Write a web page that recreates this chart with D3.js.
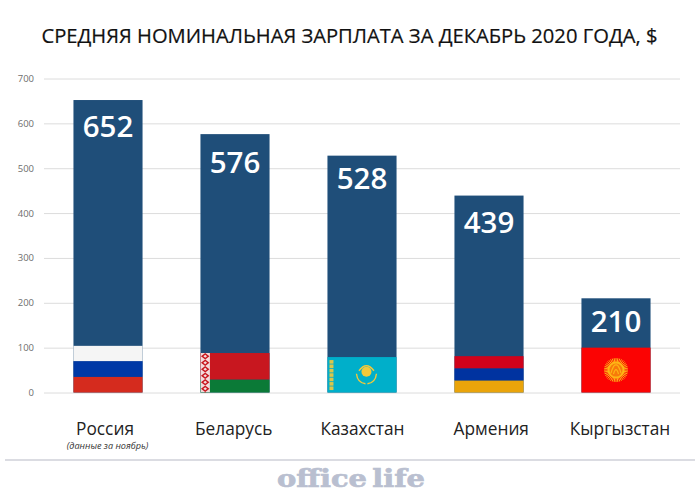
<!DOCTYPE html>
<html><head><meta charset="utf-8">
<style>html,body{margin:0;padding:0;background:#fff}svg{display:block}text{font-family:"Open Sans",sans-serif}</style>
<script src="https://cdn.jsdelivr.net/npm/d3@7"></script></head>
<body><svg id="c" width="700" height="504"></svg>
<script>
const titleText = "СРЕДНЯЯ НОМИНАЛЬНАЯ ЗАРПЛАТА ЗА ДЕКАБРЬ 2020 ГОДА, $";
const categories = ["Россия","Беларусь","Казахстан","Армения","Кыргызстан"];
const values = [652,576,528,439,210];
const yTicks = [0,100,200,300,400,500,600,700];
const noteText = "(данные за ноябрь)";
const brandText = "office life";
const barColor = "#1f4e79";
// drop of each value label below the top of its bar, in axis units
const labelDrop = [83,87,75,84,75];
// flag stripes, in axis units: [from, to, colour]
const flagRussia = [[0,35,"#d52b1e"],[35,70,"#0039a6"],[70,104,"#f5f5f5"]];
const flagBelarus = [[0,29,"#0b7a37"],[29,88,"#c8171f"]];
const flagKazakhstan = [[0,79,"#00afca"]];
const flagArmenia = [[0,27,"#eaa40a"],[27,54,"#0033a0"],[54,81,"#d0021b"]];
const flagKyrgyzstan = [[0,100,"#fb0303"]];
const flags = [flagRussia,flagBelarus,flagKazakhstan,flagArmenia,flagKyrgyzstan];

const svg = d3.select("#c");
const x = d3.scaleBand().domain(categories).range([44.5,679.5]).paddingInner(0.456).paddingOuter(0.228);
const y = d3.scaleLinear().domain([0,700]).range([392.5,78.5]);
const nameX = d3.scalePoint().domain(categories).range([105,620]);

svg.append("text").attr("x",349.5).attr("y",43).attr("text-anchor","middle")
  .attr("font-size",20.2).attr("font-weight",500).attr("fill","#111")
  .attr("stroke","#111").attr("stroke-width",0.2).text(titleText);

const axis = svg.append("g").attr("transform","translate(44,0)")
  .call(d3.axisLeft(y).tickValues(yTicks).tickSize(-636).tickPadding(10));
axis.select(".domain").remove();
axis.selectAll("line").attr("stroke","#dcdcdc").attr("stroke-width",1);
axis.selectAll("text").attr("font-size",9.5).attr("fill","#6e6e6e")
  .style("font-family",'"Open Sans",sans-serif');

svg.append("g").selectAll("rect").data(categories).join("rect")
  .attr("x",d=>x(d)).attr("width",x.bandwidth())
  .attr("y",(d,i)=>y(values[i])).attr("height",(d,i)=>y(0)-y(values[i]))
  .attr("fill",barColor);

flags.forEach((stripes,i)=>{
  svg.append("g").selectAll("rect").data(stripes).join("rect")
    .attr("x",x(categories[i])).attr("width",x.bandwidth())
    .attr("y",d=>y(d[1])).attr("height",d=>y(d[0])-y(d[1])).attr("fill",d=>d[2]);
});

// Belarus ornament
{
  const h = y(0)-y(88);
  svg.append("clipPath").attr("id","by").append("rect").attr("width",9.5).attr("height",h);
  const g = svg.append("g").attr("transform",`translate(${x(categories[1])},${y(88)})`).attr("clip-path","url(#by)");
  g.append("rect").attr("width",9.5).attr("height",h).attr("fill","#f3dcdc");
  g.selectAll("path").data(d3.range(0,h,6.5)).join("path")
    .attr("d",d=>`M4.75 ${d} L9 ${d+3.25} L4.75 ${d+6.5} L0.5 ${d+3.25} Z M4.75 ${d+1.8} L6.6 ${d+3.25} L4.75 ${d+4.7} L2.9 ${d+3.25} Z`)
    .attr("fill","#c8171f").attr("fill-rule","evenodd");
}
// Kazakhstan emblem
{
  const b = x(categories[2]), top = y(79), bot = y(0), gold = "#f2c93a";
  const g = svg.append("g");
  g.selectAll("rect").data(d3.range(top+3,bot-3,4.4)).join("rect")
    .attr("x",b+2).attr("y",d=>d).attr("width",4).attr("height",3.6).attr("fill","#d8c64c");
  const cx = b+39, cy = (top+bot)/2-1;
  g.append("circle").attr("cx",cx).attr("cy",cy-2).attr("r",5).attr("fill",gold);
  g.append("path").attr("d",`M${cx-10} ${cy} Q${cx-9} ${cy+9} ${cx-1} ${cy+10} M${cx+10} ${cy} Q${cx+9} ${cy+9} ${cx+1} ${cy+10} M${cx-7.5} ${cy-3} Q${cx} ${cy-13} ${cx+7.5} ${cy-3}`)
    .attr("fill","none").attr("stroke",gold).attr("stroke-width",1.4);
}
// Kyrgyzstan sun
{
  const cx = x(categories[4])+x.bandwidth()/2, cy = (y(100)+y(0))/2;
  const g = svg.append("g");
  g.selectAll("line").data(d3.range(0,360,9)).join("line")
    .attr("x1",d=>cx+7*Math.cos(d*Math.PI/180)).attr("y1",d=>cy+7*Math.sin(d*Math.PI/180))
    .attr("x2",d=>cx+12*Math.cos(d*Math.PI/180)).attr("y2",d=>cy+12*Math.sin(d*Math.PI/180))
    .attr("stroke","#fdb515").attr("stroke-width",1);
  g.append("circle").attr("cx",cx).attr("cy",cy).attr("r",8.5).attr("fill","#fdb515");
  g.append("circle").attr("cx",cx).attr("cy",cy).attr("r",6.5).attr("fill","#f77a0a");
  g.append("path").attr("d",`M${cx-5} ${cy+3} Q${cx-2.5} ${cy-6} ${cx} ${cy-5} Q${cx+2.5} ${cy-6} ${cx+5} ${cy+3} M${cx-2.5} ${cy+4} Q${cx} ${cy-5} ${cx+2.5} ${cy+4}`)
    .attr("fill","none").attr("stroke","#fdb515").attr("stroke-width",1.2);
}

svg.append("g").selectAll("text").data(categories).join("text")
  .attr("x",d=>x(d)+x.bandwidth()/2).attr("y",(d,i)=>y(values[i]-labelDrop[i]))
  .attr("text-anchor","middle").attr("font-size",29.5).attr("font-weight",600).attr("fill","#fff")
  .text((d,i)=>values[i]);

svg.append("g").selectAll("text").data(categories).join("text")
  .attr("x",d=>nameX(d)).attr("y",435)
  .attr("text-anchor","middle").attr("font-size",17.3).attr("fill","#222").text(d=>d);

svg.append("text").attr("x",107.5).attr("y",449)
  .attr("text-anchor","middle").attr("font-size",9.1).attr("font-style","italic").attr("fill","#333").text(noteText);

svg.append("line").attr("x1",5).attr("x2",695).attr("y1",460).attr("y2",460)
  .attr("stroke","#cfd1d9").attr("stroke-width",1.5);

svg.append("text").attr("x",351).attr("y",487).attr("text-anchor","middle")
  .attr("font-size",24).attr("font-weight",700).attr("fill","#b9bfd0")
  .attr("stroke","#b9bfd0").attr("stroke-width",0.7)
  .attr("word-spacing",-4)
  .attr("textLength",148).attr("lengthAdjust","spacingAndGlyphs")
  .style("font-family",'"DejaVu Serif",serif').text(brandText);
</script></body></html>
